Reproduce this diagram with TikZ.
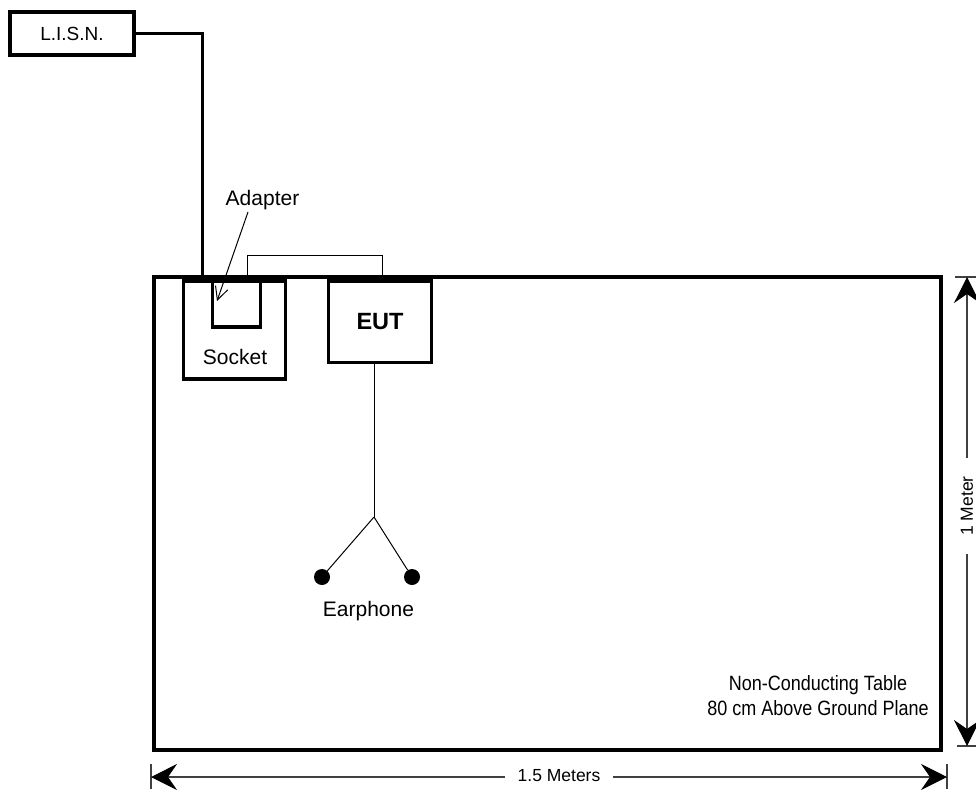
\documentclass[tikz,border=0pt]{standalone}
\usepackage{fontspec}
\setmainfont{Liberation Sans}
\usetikzlibrary{arrows.meta}
\begin{document}
\begin{tikzpicture}[x=1pt,y=-1pt,
  box/.style={draw, line width=3.5pt, inner sep=0pt},
  tablebox/.style={draw, line width=4pt, inner sep=0pt},
  lbl/.style={font=\fontsize{21}{24}\selectfont, inner sep=0pt},
  dimlbl/.style={font=\fontsize{17.5}{20}\selectfont, fill=white},
  cable/.style={line width=3pt},
  thin/.style={line width=1pt},
  dim/.style={line width=1.1pt, black!75},
  dimarrow/.style={dim, {Stealth[length=26pt,width=26pt,inset=9pt,black]}-{Stealth[length=26pt,width=26pt,inset=9pt,black]}},
  dot/.style={circle, fill=black, inner sep=0pt, minimum size=16pt}]
\useasboundingbox (0,0) rectangle (976,789);
% LISN
\node[box, minimum width=124pt, minimum height=43pt, font=\fontsize{19}{22}\selectfont] (lisn) at (72,33.5) {L.I.S.N.};
% table
\node[tablebox, minimum width=787pt, minimum height=473pt] (table) at (547.5,513.5) {};
% socket and adapter
\node[box, minimum width=102pt, minimum height=98pt] (socket) at (234.5,330) {};
\node[box, minimum width=48pt, minimum height=46pt] (adapter) at (236.5,304) {};
\node[lbl] (socketlbl) at (235,357) {Socket};
% EUT
\node[box, minimum width=103pt, minimum height=81.5pt, font=\bfseries\fontsize{23.5}{27}\selectfont] (eut) at (380,321.75) {EUT};
% mains cable
\coordinate (plug) at (202,277);
\draw[cable] (lisn.east) -| (plug);
% link between socket and EUT
\coordinate (l1) at (247,277);
\coordinate (l2) at (382,277);
\draw[thin] (l1) -- ++(0,-22) -| (l2);
% adapter label
\node[lbl] (adlbl) at (262.5,200) {Adapter};
\coordinate (adtip) at (217,301);
\draw[thin, -{Straight Barb[length=13pt,width=13pt]}] (248,212) -- (adtip);
% earphone
\coordinate (jn) at (374,517);
\node[dot] (e1) at (322,577) {};
\node[dot] (e2) at (412,577) {};
\draw[thin] (eut.south -| jn) -- (jn);
\draw[thin] (jn) -- (e1);
\draw[thin] (jn) -- (e2);
\node[lbl] (earlbl) at (368.5,611) {Earphone};
% table text
\node[inner sep=0pt, font=\fontsize{18}{20}\selectfont] (ttext1) at (818,685) {\scalebox{1}[1.15]{Non-Conducting Table}};
\node[inner sep=0pt, font=\fontsize{18}{20}\selectfont] (ttext2) at (818,708) {\scalebox{1}[1.15]{80 cm Above Ground Plane}};
% vertical dimension
\coordinate (vt) at (967,277);
\coordinate (vb) at (967,746);
\draw[dim] (955,277) -- (976,277);
\draw[dim] (957,746) -- (976,746);
\draw[dimarrow] (vt) -- (vb);
\node[dimlbl, rotate=90, inner xsep=18pt, inner ysep=4pt] (vlbl) at (967,506) {1 Meter};
% horizontal dimension
\coordinate (hl) at (151,777);
\coordinate (hr) at (947,777);
\draw[dim] (151,764) -- (151,789);
\draw[dim] (947,764) -- (947,789);
\draw[dimarrow] (hl) -- (hr);
\node[dimlbl, inner xsep=13pt, inner ysep=3pt] (hlbl) at (559,776) {1.5 Meters};
\end{tikzpicture}
\end{document}
